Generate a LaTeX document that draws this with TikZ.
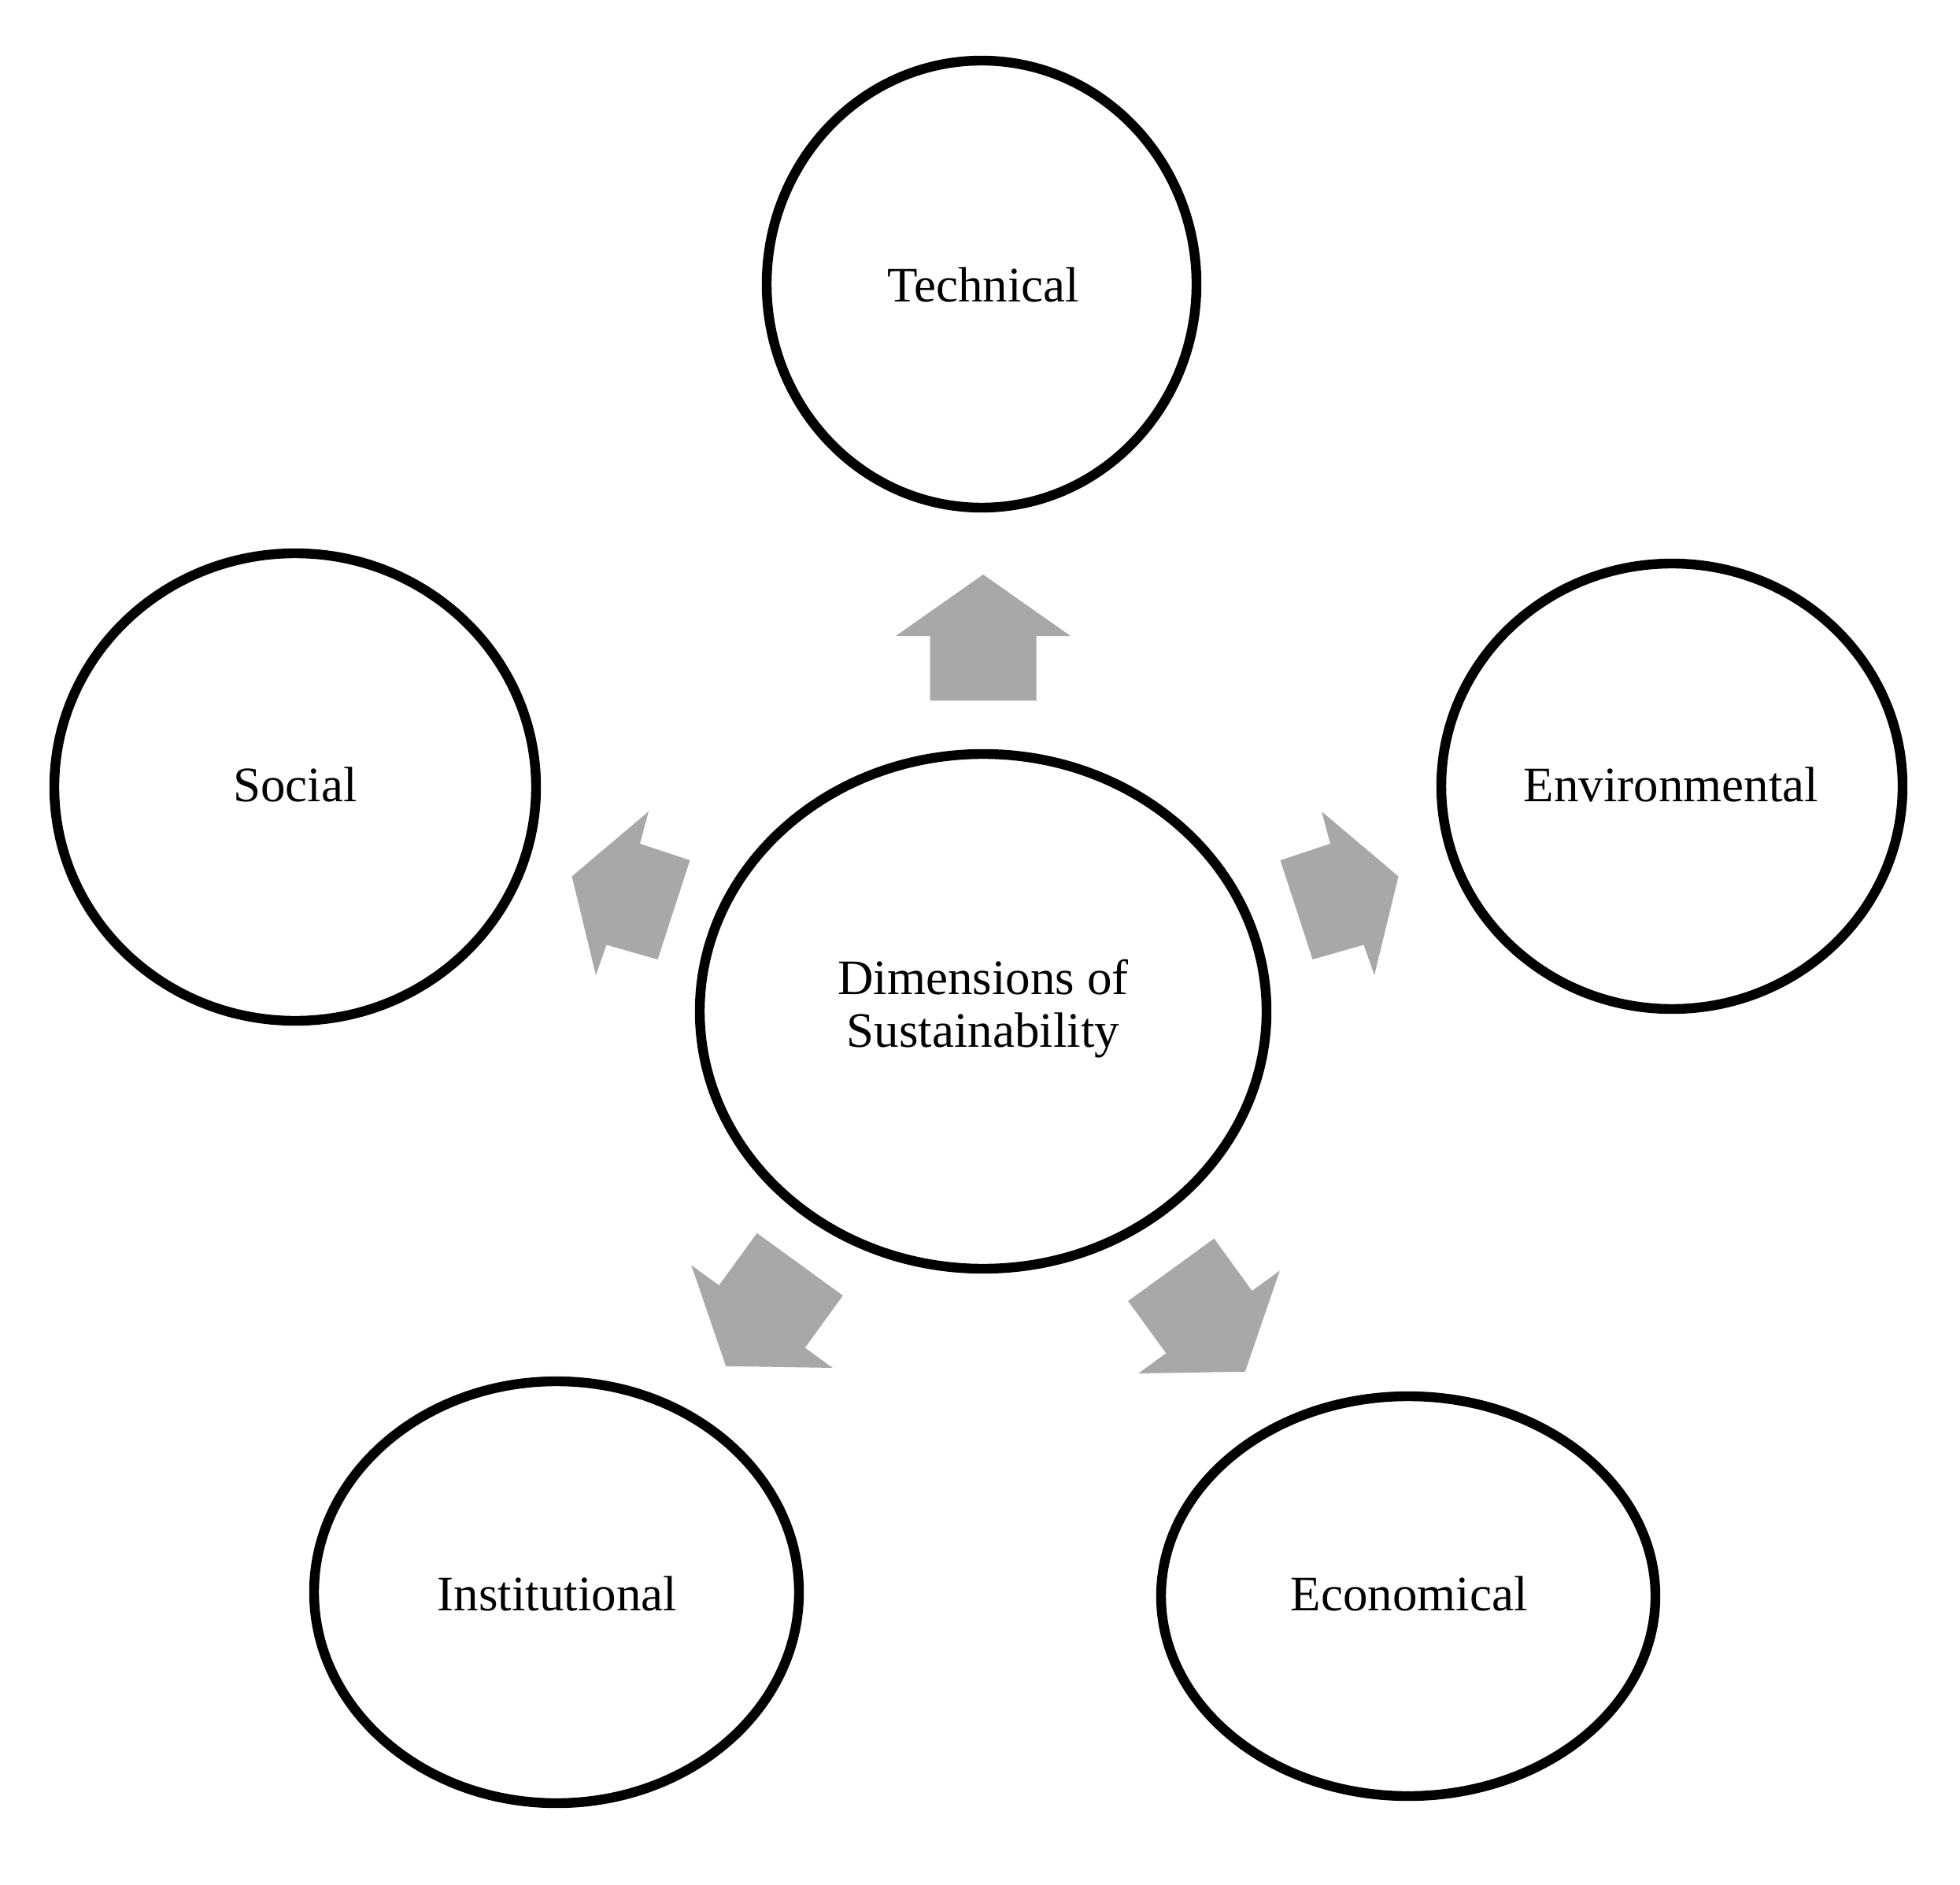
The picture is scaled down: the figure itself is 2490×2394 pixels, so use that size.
\documentclass[tikz,border=0pt]{standalone}
\usepackage{fontspec}
\setmainfont{Liberation Serif}
\begin{document}
\begin{tikzpicture}[x=0.25pt,y=-0.25pt,
  ring/.style={draw=black,line width=3.1pt},
  lbl/.style={font=\fontsize{15.75pt}{16.75pt}\selectfont,align=center,inner sep=0pt},
  blockarrow/.style={fill=arrowgray,draw=none}]
\definecolor{arrowgray}{HTML}{A8A8A8}
\useasboundingbox (0,0) rectangle (2490,2394);
\fill[white] (0,0) rectangle (2490,2394);
% circles
\draw[ring] (1247,361) ellipse [x radius=273, y radius=284];
\draw[ring] (375,1000) ellipse [x radius=306, y radius=297];
\draw[ring] (2124,999) ellipse [x radius=293, y radius=283];
\draw[ring] (1249,1285) ellipse [x radius=360, y radius=327];
\draw[ring] (707,2023) ellipse [x radius=308, y radius=268];
\draw[ring] (1789,2028) ellipse [x radius=314, y radius=254];
% labels
\node[lbl] (tech) at (1249,362) {Technical};
\node[lbl] (soc) at (375,997) {Social};
\node[lbl] (env) at (2123,997) {Environmental};
\node[lbl] (dim) at (1249,1282) {Dimensions of\\Sustainability};
\node[lbl] (inst) at (708,2025) {Institutional};
\node[lbl] (econ) at (1790,2025) {Economical};
% block arrows: up and lower ones as rotations of one shape
\foreach \ang/\sx/\sy in {0/1249/1286,144/1249/1286,216/1255/1293}{
  \begin{scope}[shift={(\sx,\sy)},rotate=\ang]
  \fill[blockarrow]
    (0,-556) -- (111,-478) -- (67.5,-478) --
    (67.5,-396) -- (-67.5,-396) -- (-67.5,-478) --
    (-111,-478) -- cycle;
  \end{scope}
}
% side arrows (shorter)
\fill[blockarrow] (726.5,1113.5) -- (824,1031) -- (813,1072) -- (876.5,1093)
  -- (835.5,1219) -- (770.5,1200.5) -- (757,1239) -- cycle;
\fill[blockarrow] (1776.5,1113.5) -- (1679,1031) -- (1690,1072) -- (1626.5,1093)
  -- (1667.5,1219) -- (1732.5,1200.5) -- (1746,1239) -- cycle;
\end{tikzpicture}
\end{document}
